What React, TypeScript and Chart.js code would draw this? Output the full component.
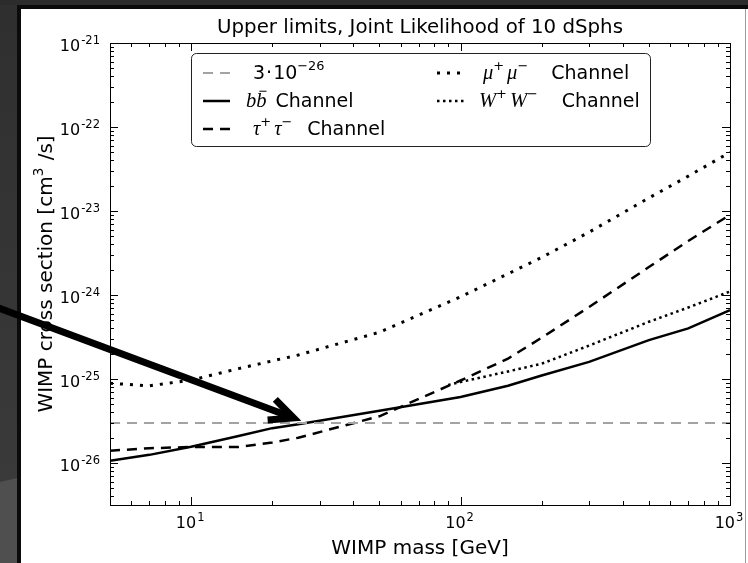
import React, { useEffect, useRef } from "react";
import { Chart, registerables } from "chart.js";

Chart.register(...registerables);

// ---- data (WIMP mass in GeV, cross section in cm^3/s) ----
const bbMasses = [5, 7, 10, 15, 20, 25, 50, 100, 150, 200, 300, 500, 700, 1000];
const bbLimits = [1.06e-26, 1.25e-26, 1.56e-26, 2.1e-26, 2.6e-26, 2.9e-26, 4.2e-26, 6.1e-26, 8.3e-26, 1.1e-25, 1.6e-25, 2.9e-25, 4.0e-25, 6.6e-25];

const tauMasses = [5, 7, 10, 15, 20, 25, 50, 100, 150, 200, 300, 500, 700, 1000];
const tauLimits = [1.4e-26, 1.5e-26, 1.55e-26, 1.55e-26, 1.75e-26, 2.0e-26, 3.6e-26, 9.6e-26, 1.75e-25, 3.1e-25, 7.2e-25, 2.15e-24, 4.4e-24, 9.0e-24];

const muMasses = [5, 7, 10, 15, 25, 50, 100, 200, 300, 500, 700, 1000];
const muLimits = [8.9e-26, 8.3e-26, 9.7e-26, 1.33e-25, 1.93e-25, 3.6e-25, 9.5e-25, 2.8e-24, 5.6e-24, 1.43e-23, 2.6e-23, 5.0e-23];

const wwMasses = [90, 100, 150, 200, 300, 500, 700, 1000];
const wwLimits = [8.5e-26, 9.2e-26, 1.23e-25, 1.52e-25, 2.5e-25, 4.8e-25, 7.1e-25, 1.1e-24];

const thermalMasses = [5, 1000];
const thermalValue = 3e-26;

const xTickExponents = [1, 2, 3];
const yTickExponents = [-26, -25, -24, -23, -22, -21];

const X_MIN = 5;
const X_MAX = 1000;
const Y_MIN = Math.pow(10, -26.5);
const Y_MAX = 1e-21;

// annotation arrow tip (mass, cross section)
const arrowTip = { mass: 24, sigma: 3.44e-26 };

type Run = { t: string; it?: boolean; sup?: boolean; bar?: boolean; gap?: number };

const legendRows: { ds: number; col: number; row: number; dx: number; runs: Run[] }[] = [
  { ds: 0, col: 0, row: 0, dx: 7, runs: [{ t: "3" }, { t: "\u00b7", gap: 1 }, { t: "10", gap: 1 }, { t: "\u221226", sup: true }] },
  { ds: 1, col: 0, row: 1, dx: 0, runs: [{ t: "b", it: true }, { t: "b", it: true, bar: true }, { t: "Channel", gap: 9 }] },
  { ds: 2, col: 0, row: 2, dx: 7, runs: [{ t: "\u03c4", it: true }, { t: "+", sup: true }, { t: "\u03c4", it: true, gap: 2 }, { t: "\u2212", sup: true }, { t: "Channel", gap: 14 }] },
  { ds: 3, col: 1, row: 0, dx: 4, runs: [{ t: "\u03bc", it: true }, { t: "+", sup: true }, { t: "\u03bc", it: true, gap: 2 }, { t: "\u2212", sup: true }, { t: "Channel", gap: 22 }] },
  { ds: 4, col: 1, row: 1, dx: 0, runs: [{ t: "W", it: true }, { t: "+", sup: true }, { t: "W", it: true, gap: 2 }, { t: "\u2212", sup: true }, { t: "Channel", gap: 23 }] },
];

const SANS = '"DejaVu Sans", sans-serif';
const SERIF = '"Liberation Serif", "DejaVu Serif", serif';

function runFont(r: Run, size: number) {
  const fs = r.sup ? size * 0.68 : r.it ? size * 1.08 : size;
  return r.it ? `italic ${fs}px ${SERIF}` : `${fs}px ${SANS}`;
}

function measureRuns(ctx: CanvasRenderingContext2D, runs: Run[], size: number) {
  let w = 0;
  for (const r of runs) {
    ctx.font = runFont(r, size);
    w += (r.gap || 0) + ctx.measureText(r.t).width + (r.sup ? 1 : 0);
  }
  return w;
}

function drawRuns(ctx: CanvasRenderingContext2D, runs: Run[], x: number, baseline: number, size: number) {
  let cx = x;
  ctx.textAlign = "left";
  ctx.textBaseline = "alphabetic";
  for (const r of runs) {
    cx += r.gap || 0;
    ctx.font = runFont(r, size);
    const y = r.sup ? baseline - size * 0.45 : baseline;
    ctx.fillText(r.t, cx, y);
    const w = ctx.measureText(r.t).width;
    if (r.bar) {
      ctx.save();
      ctx.lineWidth = 1;
      ctx.strokeStyle = ctx.fillStyle as string;
      ctx.beginPath();
      ctx.moveTo(cx + w * 0.3, baseline - size * 0.83);
      ctx.lineTo(cx + w * 1.0, baseline - size * 0.83);
      ctx.stroke();
      ctx.restore();
    }
    cx += w + (r.sup ? 1 : 0);
  }
  return cx;
}

function drawPower(ctx: CanvasRenderingContext2D, exp: number, x: number, baseline: number, align: "right" | "center") {
  const base = "10";
  const sup = exp < 0 ? `-${-exp}` : `${exp}`;
  ctx.font = `16px ${SANS}`;
  const wb = ctx.measureText(base).width;
  ctx.font = `11.5px ${SANS}`;
  const ws = ctx.measureText(sup).width;
  const total = wb + ws + 1;
  const x0 = align === "right" ? x - total : x - total / 2;
  ctx.textAlign = "left";
  ctx.textBaseline = "alphabetic";
  ctx.font = `16px ${SANS}`;
  ctx.fillText(base, x0, baseline);
  ctx.font = `11.5px ${SANS}`;
  ctx.fillText(sup, x0 + wb + 1, baseline - 7.5);
}

const decorPlugin = {
  id: "decor",
  beforeDraw(chart: any) {
    const { ctx, width, height } = chart;
    ctx.save();
    ctx.fillStyle = "#ffffff";
    ctx.fillRect(0, 0, width, height);
    // dark page surround on the left and top
    const g = ctx.createLinearGradient(0, 0, 0, height);
    g.addColorStop(0, "#2f2f2f");
    g.addColorStop(0.85, "#3a3a3a");
    g.addColorStop(1, "#3c3c3c");
    ctx.fillStyle = g;
    ctx.fillRect(0, 0, 17, height);
    ctx.fillStyle = "#4f4f4f";
    ctx.beginPath();
    ctx.moveTo(0, 482);
    ctx.lineTo(17, 478);
    ctx.lineTo(17, height);
    ctx.lineTo(0, height);
    ctx.closePath();
    ctx.fill();
    ctx.fillStyle = "#2c2c2c";
    ctx.fillRect(0, 0, width, 5);
    ctx.fillStyle = "#0b0b0b";
    ctx.fillRect(17, 5, width - 17, 4);
    ctx.fillRect(17, 5, 4, height - 5);
    ctx.fillStyle = "#9c9c9c";
    ctx.fillRect(745, 9, 1, height - 9);
    ctx.restore();
  },
  afterDatasetsDraw(chart: any) {
    const { ctx } = chart;
    const a = chart.chartArea;
    const xs = chart.scales.x;
    const ys = chart.scales.y;
    ctx.save();

    // axes frame
    ctx.strokeStyle = "#000";
    ctx.lineWidth = 1;
    ctx.strokeRect(Math.round(a.left) + 0.5, Math.round(a.top) + 0.5, Math.round(a.right - a.left), Math.round(a.bottom - a.top));

    // inward ticks on all four sides
    const tickX = (v: number, len: number) => {
      const px = Math.round(xs.getPixelForValue(v)) + 0.5;
      ctx.beginPath();
      ctx.moveTo(px, a.bottom);
      ctx.lineTo(px, a.bottom - len);
      ctx.moveTo(px, a.top);
      ctx.lineTo(px, a.top + len);
      ctx.stroke();
    };
    const tickY = (v: number, len: number) => {
      const py = Math.round(ys.getPixelForValue(v)) + 0.5;
      ctx.beginPath();
      ctx.moveTo(a.left, py);
      ctx.lineTo(a.left + len, py);
      ctx.moveTo(a.right, py);
      ctx.lineTo(a.right - len, py);
      ctx.stroke();
    };
    for (let d = 0; d <= 3; d++) {
      for (let m = 1; m <= 9; m++) {
        const v = m * Math.pow(10, d);
        if (v < X_MIN - 1e-9 || v > X_MAX + 1e-9) continue;
        tickX(v, m === 1 ? 8 : 4);
      }
    }
    for (let d = -27; d <= -21; d++) {
      for (let m = 1; m <= 9; m++) {
        const v = m * Math.pow(10, d);
        if (v < Y_MIN * 0.999 || v > Y_MAX * 1.001) continue;
        tickY(v, m === 1 ? 8 : 4);
      }
    }

    // tick labels
    ctx.fillStyle = "#000";
    for (const e of xTickExponents) {
      const px = xs.getPixelForValue(Math.pow(10, e));
      drawPower(ctx, e, px - 1, a.bottom + 23, "center");
    }
    for (const e of yTickExponents) {
      const py = ys.getPixelForValue(Math.pow(10, e));
      drawPower(ctx, e, a.left - 10, py + 8, "right");
    }

    // title and axis titles
    ctx.textAlign = "center";
    ctx.textBaseline = "alphabetic";
    ctx.font = `19.8px ${SANS}`;
    ctx.fillText("Upper limits, Joint Likelihood of 10 dSphs", (a.left + a.right) / 2, a.top - 10);
    ctx.font = `20px ${SANS}`;
    ctx.fillText("WIMP mass [GeV]", (a.left + a.right) / 2, a.bottom + 49);

    const yTitle: Run[] = [{ t: "WIMP cross section [cm" }, { t: "3", sup: true }, { t: " /s]" }];
    const wyt = measureRuns(ctx, yTitle, 20);
    ctx.save();
    ctx.translate(52, (a.top + a.bottom) / 2);
    ctx.rotate(-Math.PI / 2);
    ctx.fillStyle = "#000";
    drawRuns(ctx, yTitle, -wyt / 2, 0, 20);
    ctx.restore();

    // legend
    const lx = 191, ly = 53, lw = 459, lh = 93;
    ctx.fillStyle = "#fff";
    ctx.strokeStyle = "#222";
    ctx.lineWidth = 1;
    ctx.beginPath();
    ctx.roundRect(lx + 0.5, ly + 0.5, lw, lh, 5);
    ctx.fill();
    ctx.stroke();
    const colSample = [203, 437];
    const colText = [246, 479];
    const rowY = [73, 101, 129];
    const rowBase = [79, 107, 135];
    for (const item of legendRows) {
      const ds = chart.data.datasets[item.ds];
      const y = rowY[item.row];
      ctx.save();
      ctx.strokeStyle = ds.borderColor;
      ctx.lineWidth = ds.borderWidth;
      ctx.setLineDash(ds.borderDash || []);
      ctx.beginPath();
      ctx.moveTo(colSample[item.col], y);
      ctx.lineTo(colSample[item.col] + 27, y);
      ctx.stroke();
      ctx.restore();
      ctx.fillStyle = "#000";
      drawRuns(ctx, item.runs, colText[item.col] + item.dx, rowBase[item.row], 19);
    }

    ctx.restore();
  },
  afterDraw(chart: any) {
    // pointer arrow toward the thermal cross-section crossing
    const { ctx } = chart;
    const tx = chart.scales.x.getPixelForValue(arrowTip.mass);
    const ty = chart.scales.y.getPixelForValue(arrowTip.sigma);
    const ang = Math.atan2(-0.373, -1);
    const tailX = -10;
    const tailY = ty + (tailX - tx) * 0.373;
    ctx.save();
    ctx.strokeStyle = "#000";
    ctx.lineWidth = 7;
    ctx.lineCap = "butt";
    ctx.beginPath();
    ctx.moveTo(tailX, tailY);
    ctx.lineTo(tx + Math.cos(ang) * 4, ty + Math.sin(ang) * 4);
    ctx.stroke();
    const hl = 26, spread = (25 * Math.PI) / 180;
    ctx.lineJoin = "miter";
    ctx.beginPath();
    ctx.moveTo(tx + Math.cos(ang + spread) * hl, ty + Math.sin(ang + spread) * hl);
    ctx.lineTo(tx, ty);
    ctx.lineTo(tx + Math.cos(ang - spread) * hl, ty + Math.sin(ang - spread) * hl);
    ctx.stroke();
    ctx.restore();
  },
};

function points(xs: number[], ys: number[]) {
  return xs.map((x, i) => ({ x, y: ys[i] }));
}

export default function App() {
  const canvasRef = useRef<HTMLCanvasElement | null>(null);

  useEffect(() => {
    const canvas = canvasRef.current;
    if (!canvas) return;
    const chart = new Chart(canvas, {
      type: "line",
      data: {
        datasets: [
          {
            label: "3e-26",
            data: points(thermalMasses, thermalMasses.map(() => thermalValue)),
            borderColor: "#a3a3a3",
            borderWidth: 2,
            borderDash: [10, 7],
          },
          {
            label: "bb Channel",
            data: points(bbMasses, bbLimits),
            borderColor: "#000",
            borderWidth: 2.5,
          },
          {
            label: "tau tau Channel",
            data: points(tauMasses, tauLimits),
            borderColor: "#000",
            borderWidth: 2.5,
            borderDash: [10, 7],
          },
          {
            label: "mu mu Channel",
            data: points(muMasses, muLimits),
            borderColor: "#000",
            borderWidth: 3,
            borderDash: [3, 7],
          },
          {
            label: "W W Channel",
            data: points(wwMasses, wwLimits),
            borderColor: "#000",
            borderWidth: 2.5,
            borderDash: [2.5, 3.5],
          },
        ],
      },
      options: {
        responsive: false,
        animation: false,
        devicePixelRatio: 1,
        layout: { padding: { left: 110, right: 18, top: 43, bottom: 58 } },
        elements: { point: { radius: 0 }, line: { tension: 0, fill: false } },
        plugins: { legend: { display: false }, tooltip: { enabled: false } },
        events: [],
        scales: {
          x: { type: "logarithmic", min: X_MIN, max: X_MAX, display: false },
          y: { type: "logarithmic", min: Y_MIN, max: Y_MAX, display: false },
        },
      },
      plugins: [decorPlugin],
    });
    return () => chart.destroy();
  }, []);

  return (
    <div style={{ position: "fixed", left: 0, top: 0, width: 748, height: 563, overflow: "hidden" }}>
      <canvas ref={canvasRef} width={748} height={563} style={{ display: "block", width: 748, height: 563 }} />
    </div>
  );
}
